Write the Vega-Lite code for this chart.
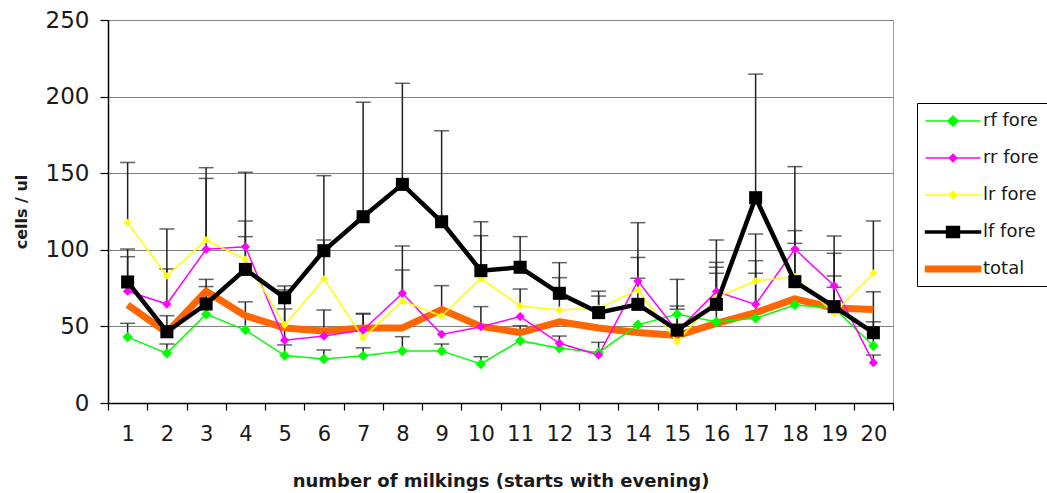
{
  "$schema": "https://vega.github.io/schema/vega-lite/v6.json",
  "width": 785,
  "height": 383,
  "autosize": {"type": "none"},
  "padding": {"left": 108, "top": 20, "right": 154, "bottom": 90},
  "background": "white",
  "config": {
    "font": "DejaVu Sans",
    "view": {"fill": "#C0C0C0", "stroke": "#9a9a9a", "strokeWidth": 1},
    "axis": {"labelFont": "DejaVu Sans", "titleFont": "DejaVu Sans"}
  },
  "datasets": {
    "d": [
      {"m":1,"s":"rf fore","v":43,"e":52},{"m":1,"s":"rr fore","v":73,"e":95.5},{"m":1,"s":"lr fore","v":117.7,"e":157},{"m":1,"s":"lf fore","v":79,"e":100.5},{"m":1,"s":"total","v":64,"e":null},
      {"m":2,"s":"rf fore","v":32.4,"e":38.5},{"m":2,"s":"rr fore","v":64.6,"e":87.5},{"m":2,"s":"lr fore","v":83,"e":113.6},{"m":2,"s":"lf fore","v":46.5,"e":57},{"m":2,"s":"total","v":46,"e":null},
      {"m":3,"s":"rf fore","v":58,"e":76},{"m":3,"s":"rr fore","v":100.3,"e":146.6},{"m":3,"s":"lr fore","v":106.4,"e":153.6},{"m":3,"s":"lf fore","v":64.6,"e":80.7},{"m":3,"s":"total","v":73,"e":null},
      {"m":4,"s":"rf fore","v":47.6,"e":66},{"m":4,"s":"rr fore","v":102,"e":150.6},{"m":4,"s":"lr fore","v":93.8,"e":118.8},{"m":4,"s":"lf fore","v":87.2,"e":108.6},{"m":4,"s":"total","v":57,"e":null},
      {"m":5,"s":"rf fore","v":31,"e":37.9},{"m":5,"s":"rr fore","v":41,"e":61.4},{"m":5,"s":"lr fore","v":51,"e":73.8},{"m":5,"s":"lf fore","v":68.7,"e":76.4},{"m":5,"s":"total","v":49,"e":null},
      {"m":6,"s":"rf fore","v":28.7,"e":34.6},{"m":6,"s":"rr fore","v":43.7,"e":60.7},{"m":6,"s":"lr fore","v":81,"e":106.4},{"m":6,"s":"lf fore","v":99.4,"e":148.4},{"m":6,"s":"total","v":47,"e":null},
      {"m":7,"s":"rf fore","v":30.9,"e":36},{"m":7,"s":"rr fore","v":47.6,"e":58.5},{"m":7,"s":"lr fore","v":42.6,"e":58},{"m":7,"s":"lf fore","v":121.6,"e":196.3},{"m":7,"s":"total","v":49,"e":null},
      {"m":8,"s":"rf fore","v":34,"e":43.3},{"m":8,"s":"rr fore","v":71.6,"e":102.5},{"m":8,"s":"lr fore","v":66.6,"e":86.8},{"m":8,"s":"lf fore","v":142.7,"e":208.7},{"m":8,"s":"total","v":49,"e":null},
      {"m":9,"s":"rf fore","v":34,"e":38.5},{"m":9,"s":"rr fore","v":44.8,"e":null},{"m":9,"s":"lr fore","v":56.8,"e":76.6},{"m":9,"s":"lf fore","v":118.3,"e":177.7},{"m":9,"s":"total","v":61,"e":null},
      {"m":10,"s":"rf fore","v":25.5,"e":30.2},{"m":10,"s":"rr fore","v":49.8,"e":62.9},{"m":10,"s":"lr fore","v":81.4,"e":109.2},{"m":10,"s":"lf fore","v":86.4,"e":118.3},{"m":10,"s":"total","v":50,"e":null},
      {"m":11,"s":"rf fore","v":40.7,"e":50.5},{"m":11,"s":"rr fore","v":56.4,"e":null},{"m":11,"s":"lr fore","v":63.3,"e":74.4},{"m":11,"s":"lf fore","v":88.6,"e":108.6},{"m":11,"s":"total","v":46,"e":null},
      {"m":12,"s":"rf fore","v":35.7,"e":43.7},{"m":12,"s":"rr fore","v":39,"e":null},{"m":12,"s":"lr fore","v":60.7,"e":81.8},{"m":12,"s":"lf fore","v":71.6,"e":91.6},{"m":12,"s":"total","v":53,"e":null},
      {"m":13,"s":"rf fore","v":33,"e":null},{"m":13,"s":"rr fore","v":31.3,"e":39.6},{"m":13,"s":"lr fore","v":61.8,"e":69.8},{"m":13,"s":"lf fore","v":59,"e":73},{"m":13,"s":"total","v":49,"e":null},
      {"m":14,"s":"rf fore","v":51,"e":null},{"m":14,"s":"rr fore","v":79.6,"e":95},{"m":14,"s":"lr fore","v":73.8,"e":81.4},{"m":14,"s":"lf fore","v":64.4,"e":117.7},{"m":14,"s":"total","v":46,"e":null},
      {"m":15,"s":"rf fore","v":57.9,"e":63.3},{"m":15,"s":"rr fore","v":47,"e":61.2},{"m":15,"s":"lr fore","v":40,"e":null},{"m":15,"s":"lf fore","v":47.6,"e":80.7},{"m":15,"s":"total","v":44,"e":null},
      {"m":16,"s":"rf fore","v":53,"e":84.7},{"m":16,"s":"rr fore","v":72.7,"e":91.8},{"m":16,"s":"lr fore","v":69,"e":88.6},{"m":16,"s":"lf fore","v":64.4,"e":106.4},{"m":16,"s":"total","v":52,"e":null},
      {"m":17,"s":"rf fore","v":55.3,"e":84.7},{"m":17,"s":"rr fore","v":64.4,"e":92.9},{"m":17,"s":"lr fore","v":79.6,"e":110.3},{"m":17,"s":"lf fore","v":134,"e":214.7},{"m":17,"s":"total","v":59,"e":null},
      {"m":18,"s":"rf fore","v":64,"e":null},{"m":18,"s":"rr fore","v":100.5,"e":112.5},{"m":18,"s":"lr fore","v":82.5,"e":104.2},{"m":18,"s":"lf fore","v":79.2,"e":154.3},{"m":18,"s":"total","v":68,"e":null},
      {"m":19,"s":"rf fore","v":62,"e":75.5},{"m":19,"s":"rr fore","v":76.6,"e":109},{"m":19,"s":"lr fore","v":58.5,"e":82.9},{"m":19,"s":"lf fore","v":62.9,"e":97.7},{"m":19,"s":"total","v":62,"e":null},
      {"m":20,"s":"rf fore","v":37.2,"e":72.6},{"m":20,"s":"rr fore","v":26.3,"e":31.3},{"m":20,"s":"lr fore","v":84.7,"e":118.8},{"m":20,"s":"lf fore","v":45.9,"e":53},{"m":20,"s":"total","v":61,"e":null}
    ]
  },
  "data": {"name": "d"},
  "encoding": {
    "x": {
      "field": "m", "type": "ordinal", "sort": "ascending",
      "scale": {"type": "band", "paddingInner": 0, "paddingOuter": 0},
      "axis": {
        "title": "number of milkings (starts with evening)",
        "titleFontSize": 18, "titleFontWeight": "bold", "titleColor": "#1a1a1a", "titlePadding": 28,
        "labelAngle": 0, "labelFontSize": 21, "labelColor": "#1a1a1a", "labelPadding": 13,
        "tickBand": "extent", "tickSize": 7, "tickColor": "#000", "domainColor": "#000", "domainWidth": 1.5, "tickWidth": 1.2,
        "grid": false
      }
    },
    "y": {
      "field": "v", "type": "quantitative",
      "scale": {"domain": [0, 250], "nice": false, "zero": true},
      "axis": {
        "title": "cells / ul", "titleFontSize": 16, "titleFontWeight": "bold", "titleColor": "#1a1a1a", "titlePadding": 16,
        "values": [0, 50, 100, 150, 200, 250],
        "labelFontSize": 23, "labelColor": "#1a1a1a", "labelPadding": 11,
        "tickSize": 8, "tickColor": "#000", "domainColor": "#000", "domainWidth": 1.5, "tickWidth": 1.2,
        "grid": true, "gridColor": "#808080", "gridWidth": 1.2
      }
    }
  },
  "layer": [
    {
      "transform": [{"filter": "datum.e != null"}],
      "mark": {"type": "rule", "color": "#222", "strokeWidth": 1.5},
      "encoding": {"y2": {"field": "e"}}
    },
    {
      "transform": [{"filter": "datum.e != null"}],
      "mark": {"type": "tick", "orient": "horizontal", "color": "#222", "size": 15, "thickness": 1.5},
      "encoding": {"y": {"field": "e", "type": "quantitative"}}
    },
    {
      "transform": [{"filter": "datum.s == 'total'"}],
      "mark": {"type": "line", "color": "#FF6600", "strokeWidth": 7, "strokeJoin": "round"}
    },
    {
      "transform": [{"filter": "datum.s == 'rf fore' || datum.s == 'rr fore' || datum.s == 'lr fore'"}],
      "mark": {"type": "line", "strokeWidth": 1.5},
      "encoding": {
        "color": {"field": "s", "type": "nominal", "scale": {"domain": ["rf fore", "rr fore", "lr fore"], "range": ["#00FF00", "#FF00FF", "#FFFF00"]}, "legend": null}
      }
    },
    {
      "transform": [{"filter": "datum.s == 'rf fore' || datum.s == 'rr fore' || datum.s == 'lr fore'"}],
      "mark": {"type": "point", "shape": "diamond", "filled": true, "opacity": 1},
      "encoding": {
        "color": {"field": "s", "type": "nominal", "scale": {"domain": ["rf fore", "rr fore", "lr fore"], "range": ["#00FF00", "#FF00FF", "#FFFF00"]}, "legend": null},
        "size": {"field": "s", "type": "nominal", "scale": {"domain": ["rf fore", "rr fore", "lr fore"], "range": [110, 60, 60]}, "legend": null}
      }
    },
    {
      "transform": [{"filter": "datum.s == 'lf fore'"}],
      "mark": {"type": "line", "color": "#000", "strokeWidth": 4.5}
    },
    {
      "transform": [{"filter": "datum.s == 'lf fore'"}],
      "mark": {"type": "point", "shape": "square", "filled": true, "color": "#000", "size": 170, "opacity": 1}
    },
    {
      "data": {"values": []},
      "mark": {"type": "point", "filled": true, "opacity": 1},
      "encoding": {
        "x": null,
        "y": null,
        "fill": {"field": "s", "type": "nominal", "scale": {"domain": ["rf fore", "rr fore", "lr fore", "lf fore", "total"], "range": ["#00FF00", "#FF00FF", "#FFFF00", "#000000", "#FF6600"]},
          "legend": {
            "title": null, "orient": "none", "legendX": 809, "legendY": 83,
            "strokeColor": "#000", "fillColor": "#fff", "padding": 8,
            "labelFontSize": 18, "labelFont": "DejaVu Sans", "labelColor": "#1a1a1a", "labelOffset": 20,
            "symbolSize": 336, "symbolOffset": 18, "rowPadding": 18
          }},
        "stroke": {"field": "s", "type": "nominal", "scale": {"domain": ["rf fore", "rr fore", "lr fore", "lf fore", "total"], "range": ["#00FF00", "#FF00FF", "#FFFF00", "#000000", "#FF6600"]}},
        "shape": {"field": "s", "type": "nominal", "scale": {"domain": ["rf fore", "rr fore", "lr fore", "lf fore", "total"], "range": [
          "M-3,0H3M0,-0.55L0.55,0L0,0.55L-0.55,0Z",
          "M-3,0H3M0,-0.4L0.4,0L0,0.4L-0.4,0Z",
          "M-3,0H3M0,-0.4L0.4,0L0,0.4L-0.4,0Z",
          "M-3,-0.12H3V0.12H-3ZM-0.7,-0.6H0.7V0.6H-0.7Z",
          "M-3,-0.3H3V0.3H-3Z"]}}
      }
    }
  ]
}
